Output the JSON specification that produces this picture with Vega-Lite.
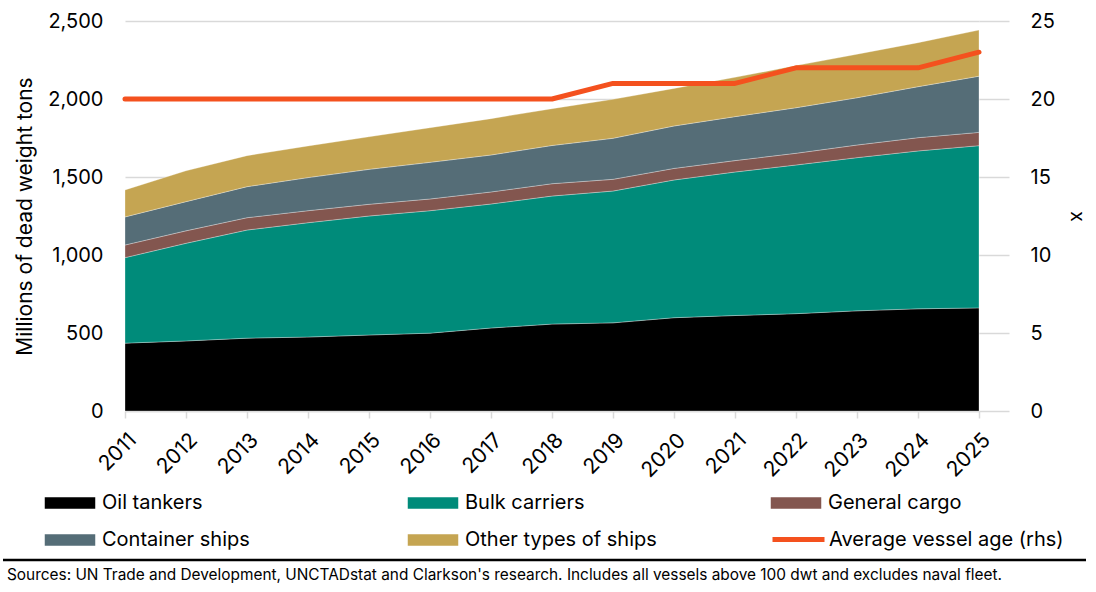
{
  "$schema": "https://vega.github.io/schema/vega-lite/v6.json",
  "padding": {"left": 0, "top": 11, "right": 0, "bottom": 0},
  "background": "white",
  "spacing": 77,
  "config": {
    "font": "Inter",
    "view": {"stroke": null},
    "axis": {"labelColor": "black", "titleColor": "black"}
  },
  "datasets": {
    "fleet": [
      {"year": 2011, "type": "Oil tankers", "dwt": 435},
      {"year": 2012, "type": "Oil tankers", "dwt": 449},
      {"year": 2013, "type": "Oil tankers", "dwt": 467},
      {"year": 2014, "type": "Oil tankers", "dwt": 474},
      {"year": 2015, "type": "Oil tankers", "dwt": 487},
      {"year": 2016, "type": "Oil tankers", "dwt": 499},
      {"year": 2017, "type": "Oil tankers", "dwt": 532},
      {"year": 2018, "type": "Oil tankers", "dwt": 557},
      {"year": 2019, "type": "Oil tankers", "dwt": 565},
      {"year": 2020, "type": "Oil tankers", "dwt": 598},
      {"year": 2021, "type": "Oil tankers", "dwt": 612},
      {"year": 2022, "type": "Oil tankers", "dwt": 624},
      {"year": 2023, "type": "Oil tankers", "dwt": 642},
      {"year": 2024, "type": "Oil tankers", "dwt": 655},
      {"year": 2025, "type": "Oil tankers", "dwt": 661},
      {"year": 2011, "type": "Bulk carriers", "dwt": 548},
      {"year": 2012, "type": "Bulk carriers", "dwt": 626},
      {"year": 2013, "type": "Bulk carriers", "dwt": 693},
      {"year": 2014, "type": "Bulk carriers", "dwt": 733},
      {"year": 2015, "type": "Bulk carriers", "dwt": 763},
      {"year": 2016, "type": "Bulk carriers", "dwt": 785},
      {"year": 2017, "type": "Bulk carriers", "dwt": 795},
      {"year": 2018, "type": "Bulk carriers", "dwt": 821},
      {"year": 2019, "type": "Bulk carriers", "dwt": 845},
      {"year": 2020, "type": "Bulk carriers", "dwt": 883},
      {"year": 2021, "type": "Bulk carriers", "dwt": 920},
      {"year": 2022, "type": "Bulk carriers", "dwt": 953},
      {"year": 2023, "type": "Bulk carriers", "dwt": 982},
      {"year": 2024, "type": "Bulk carriers", "dwt": 1012},
      {"year": 2025, "type": "Bulk carriers", "dwt": 1040},
      {"year": 2011, "type": "General cargo", "dwt": 81},
      {"year": 2012, "type": "General cargo", "dwt": 80},
      {"year": 2013, "type": "General cargo", "dwt": 79},
      {"year": 2014, "type": "General cargo", "dwt": 77},
      {"year": 2015, "type": "General cargo", "dwt": 75},
      {"year": 2016, "type": "General cargo", "dwt": 75},
      {"year": 2017, "type": "General cargo", "dwt": 77},
      {"year": 2018, "type": "General cargo", "dwt": 79},
      {"year": 2019, "type": "General cargo", "dwt": 75},
      {"year": 2020, "type": "General cargo", "dwt": 74},
      {"year": 2021, "type": "General cargo", "dwt": 73},
      {"year": 2022, "type": "General cargo", "dwt": 75},
      {"year": 2023, "type": "General cargo", "dwt": 81},
      {"year": 2024, "type": "General cargo", "dwt": 85},
      {"year": 2025, "type": "General cargo", "dwt": 85},
      {"year": 2011, "type": "Container ships", "dwt": 180},
      {"year": 2012, "type": "Container ships", "dwt": 187},
      {"year": 2013, "type": "Container ships", "dwt": 199},
      {"year": 2014, "type": "Container ships", "dwt": 212},
      {"year": 2015, "type": "Container ships", "dwt": 224},
      {"year": 2016, "type": "Container ships", "dwt": 235},
      {"year": 2017, "type": "Container ships", "dwt": 237},
      {"year": 2018, "type": "Container ships", "dwt": 245},
      {"year": 2019, "type": "Container ships", "dwt": 263},
      {"year": 2020, "type": "Container ships", "dwt": 272},
      {"year": 2021, "type": "Container ships", "dwt": 282},
      {"year": 2022, "type": "Container ships", "dwt": 292},
      {"year": 2023, "type": "Container ships", "dwt": 303},
      {"year": 2024, "type": "Container ships", "dwt": 327},
      {"year": 2025, "type": "Container ships", "dwt": 360},
      {"year": 2011, "type": "Other types of ships", "dwt": 173},
      {"year": 2012, "type": "Other types of ships", "dwt": 198},
      {"year": 2013, "type": "Other types of ships", "dwt": 199},
      {"year": 2014, "type": "Other types of ships", "dwt": 203},
      {"year": 2015, "type": "Other types of ships", "dwt": 209},
      {"year": 2016, "type": "Other types of ships", "dwt": 222},
      {"year": 2017, "type": "Other types of ships", "dwt": 233},
      {"year": 2018, "type": "Other types of ships", "dwt": 236},
      {"year": 2019, "type": "Other types of ships", "dwt": 250},
      {"year": 2020, "type": "Other types of ships", "dwt": 241},
      {"year": 2021, "type": "Other types of ships", "dwt": 252},
      {"year": 2022, "type": "Other types of ships", "dwt": 270},
      {"year": 2023, "type": "Other types of ships", "dwt": 279},
      {"year": 2024, "type": "Other types of ships", "dwt": 282},
      {"year": 2025, "type": "Other types of ships", "dwt": 296}
    ],
    "age": [
      {"year": 2011, "age": 20, "series": "Average vessel age (rhs)"},
      {"year": 2012, "age": 20, "series": "Average vessel age (rhs)"},
      {"year": 2013, "age": 20, "series": "Average vessel age (rhs)"},
      {"year": 2014, "age": 20, "series": "Average vessel age (rhs)"},
      {"year": 2015, "age": 20, "series": "Average vessel age (rhs)"},
      {"year": 2016, "age": 20, "series": "Average vessel age (rhs)"},
      {"year": 2017, "age": 20, "series": "Average vessel age (rhs)"},
      {"year": 2018, "age": 20, "series": "Average vessel age (rhs)"},
      {"year": 2019, "age": 21, "series": "Average vessel age (rhs)"},
      {"year": 2020, "age": 21, "series": "Average vessel age (rhs)"},
      {"year": 2021, "age": 21, "series": "Average vessel age (rhs)"},
      {"year": 2022, "age": 22, "series": "Average vessel age (rhs)"},
      {"year": 2023, "age": 22, "series": "Average vessel age (rhs)"},
      {"year": 2024, "age": 22, "series": "Average vessel age (rhs)"},
      {"year": 2025, "age": 23, "series": "Average vessel age (rhs)"}
    ],
    "footer": [
      {"start": 0, "end": 1083}
    ]
  },
  "vconcat": [
    {
      "width": 854,
      "height": 390,
      "title": {"text": " ", "orient": "left", "fontSize": 1, "offset": 13},
      "layer": [
        {
          "data": {"name": "fleet"},
          "transform": [
            {"calculate": "indexof(['Oil tankers', 'Bulk carriers', 'General cargo', 'Container ships', 'Other types of ships'], datum.type)", "as": "rank"}
          ],
          "mark": {"type": "area", "opacity": 1, "stroke": "#ffffff", "strokeWidth": 0.6, "strokeOpacity": 0.5},
          "encoding": {
            "x": {
              "field": "year", "type": "ordinal",
              "scale": {"type": "point", "padding": 0},
              "axis": {
                "title": null, "labelAngle": -45, "labelFontSize": 21, "labelPadding": 11,
                "tickColor": "#d9d9d9", "tickSize": 7, "tickWidth": 1.5,
                "domainColor": "#d9d9d9", "domainWidth": 1.5, "grid": false
              }
            },
            "y": {
              "field": "dwt", "type": "quantitative", "stack": "zero",
              "scale": {"domain": [0, 2500]},
              "axis": {
                "title": "Millions of dead weight tons", "titleFontSize": 21, "titleFontWeight": "normal",
                "titlePadding": 12, "values": [0, 500, 1000, 1500, 2000, 2500], "format": ",.0f",
                "labelFontSize": 20, "labelPadding": 22, "ticks": false, "domain": false,
                "gridColor": "#d9d9d9", "gridWidth": 1.5
              }
            },
            "order": {"field": "rank", "type": "quantitative", "sort": "ascending"},
            "color": {
              "field": "type", "type": "nominal",
              "scale": {
                "domain": ["Oil tankers", "Bulk carriers", "General cargo", "Container ships", "Other types of ships"],
                "range": ["#000000", "#008B7A", "#83564F", "#556D77", "#C5A552"]
              },
              "legend": {
                "orient": "none", "legendX": -82, "legendY": 455, "columns": 3, "direction": "horizontal",
                "title": null, "labelFontSize": 20, "labelColor": "black", "labelLimit": 400,
                "symbolType": "M-1,-0.25H1V0.25H-1Z", "symbolOpacity": 1,
                "symbolSize": 2704, "labelOffset": 5, "columnPadding": 110, "rowPadding": 0,
                "gridAlign": "all", "padding": 0
              }
            }
          }
        },
        {
          "data": {"name": "age"},
          "mark": {"type": "line", "strokeWidth": 5, "strokeCap": "round", "strokeJoin": "round"},
          "encoding": {
            "x": {"field": "year", "type": "ordinal"},
            "y": {
              "field": "age", "type": "quantitative",
              "scale": {"domain": [0, 25]},
              "axis": {
                "orient": "right", "title": "x", "titleFontSize": 20, "titleFontWeight": "normal",
                "titlePadding": 12, "values": [0, 5, 10, 15, 20, 25],
                "labelFontSize": 20, "tickSize": 30, "tickColor": "#d9d9d9", "tickWidth": 1.5,
                "labelPadding": 21, "domain": false, "grid": false
              }
            },
            "stroke": {
              "field": "series", "type": "nominal",
              "scale": {"domain": ["Average vessel age (rhs)"], "range": ["#F4511E"]},
              "legend": {
                "orient": "none", "legendX": 645, "legendY": 490, "direction": "horizontal",
                "title": null, "labelFontSize": 20, "labelColor": "black", "labelLimit": 400,
                "symbolType": "M-1,0H1", "symbolStrokeWidth": 5, "symbolOpacity": 1,
                "symbolSize": 2704, "labelOffset": 2, "padding": 0
              }
            }
          }
        }
      ],
      "resolve": {"scale": {"y": "independent"}}
    },
    {
      "width": 961,
      "height": 1,
      "data": {"name": "footer"},
      "mark": {"type": "rule", "color": "black", "strokeWidth": 2.5},
      "encoding": {
        "x": {"field": "start", "type": "quantitative", "axis": null, "scale": {"domain": [122, 1083], "nice": false, "zero": false}},
        "x2": {"field": "end"},
        "y": {"datum": 0, "type": "quantitative", "axis": null, "scale": {"domain": [0, 1]}}
      },
      "title": {
        "text": "Sources: UN Trade and Development, UNCTADstat and Clarkson's research. Includes all vessels above 100 dwt and excludes naval fleet.",
        "orient": "bottom", "anchor": "start", "frame": "group", "fontSize": 15.4,
        "fontWeight": "normal", "offset": 7, "dx": -118, "color": "black"
      }
    }
  ]
}
